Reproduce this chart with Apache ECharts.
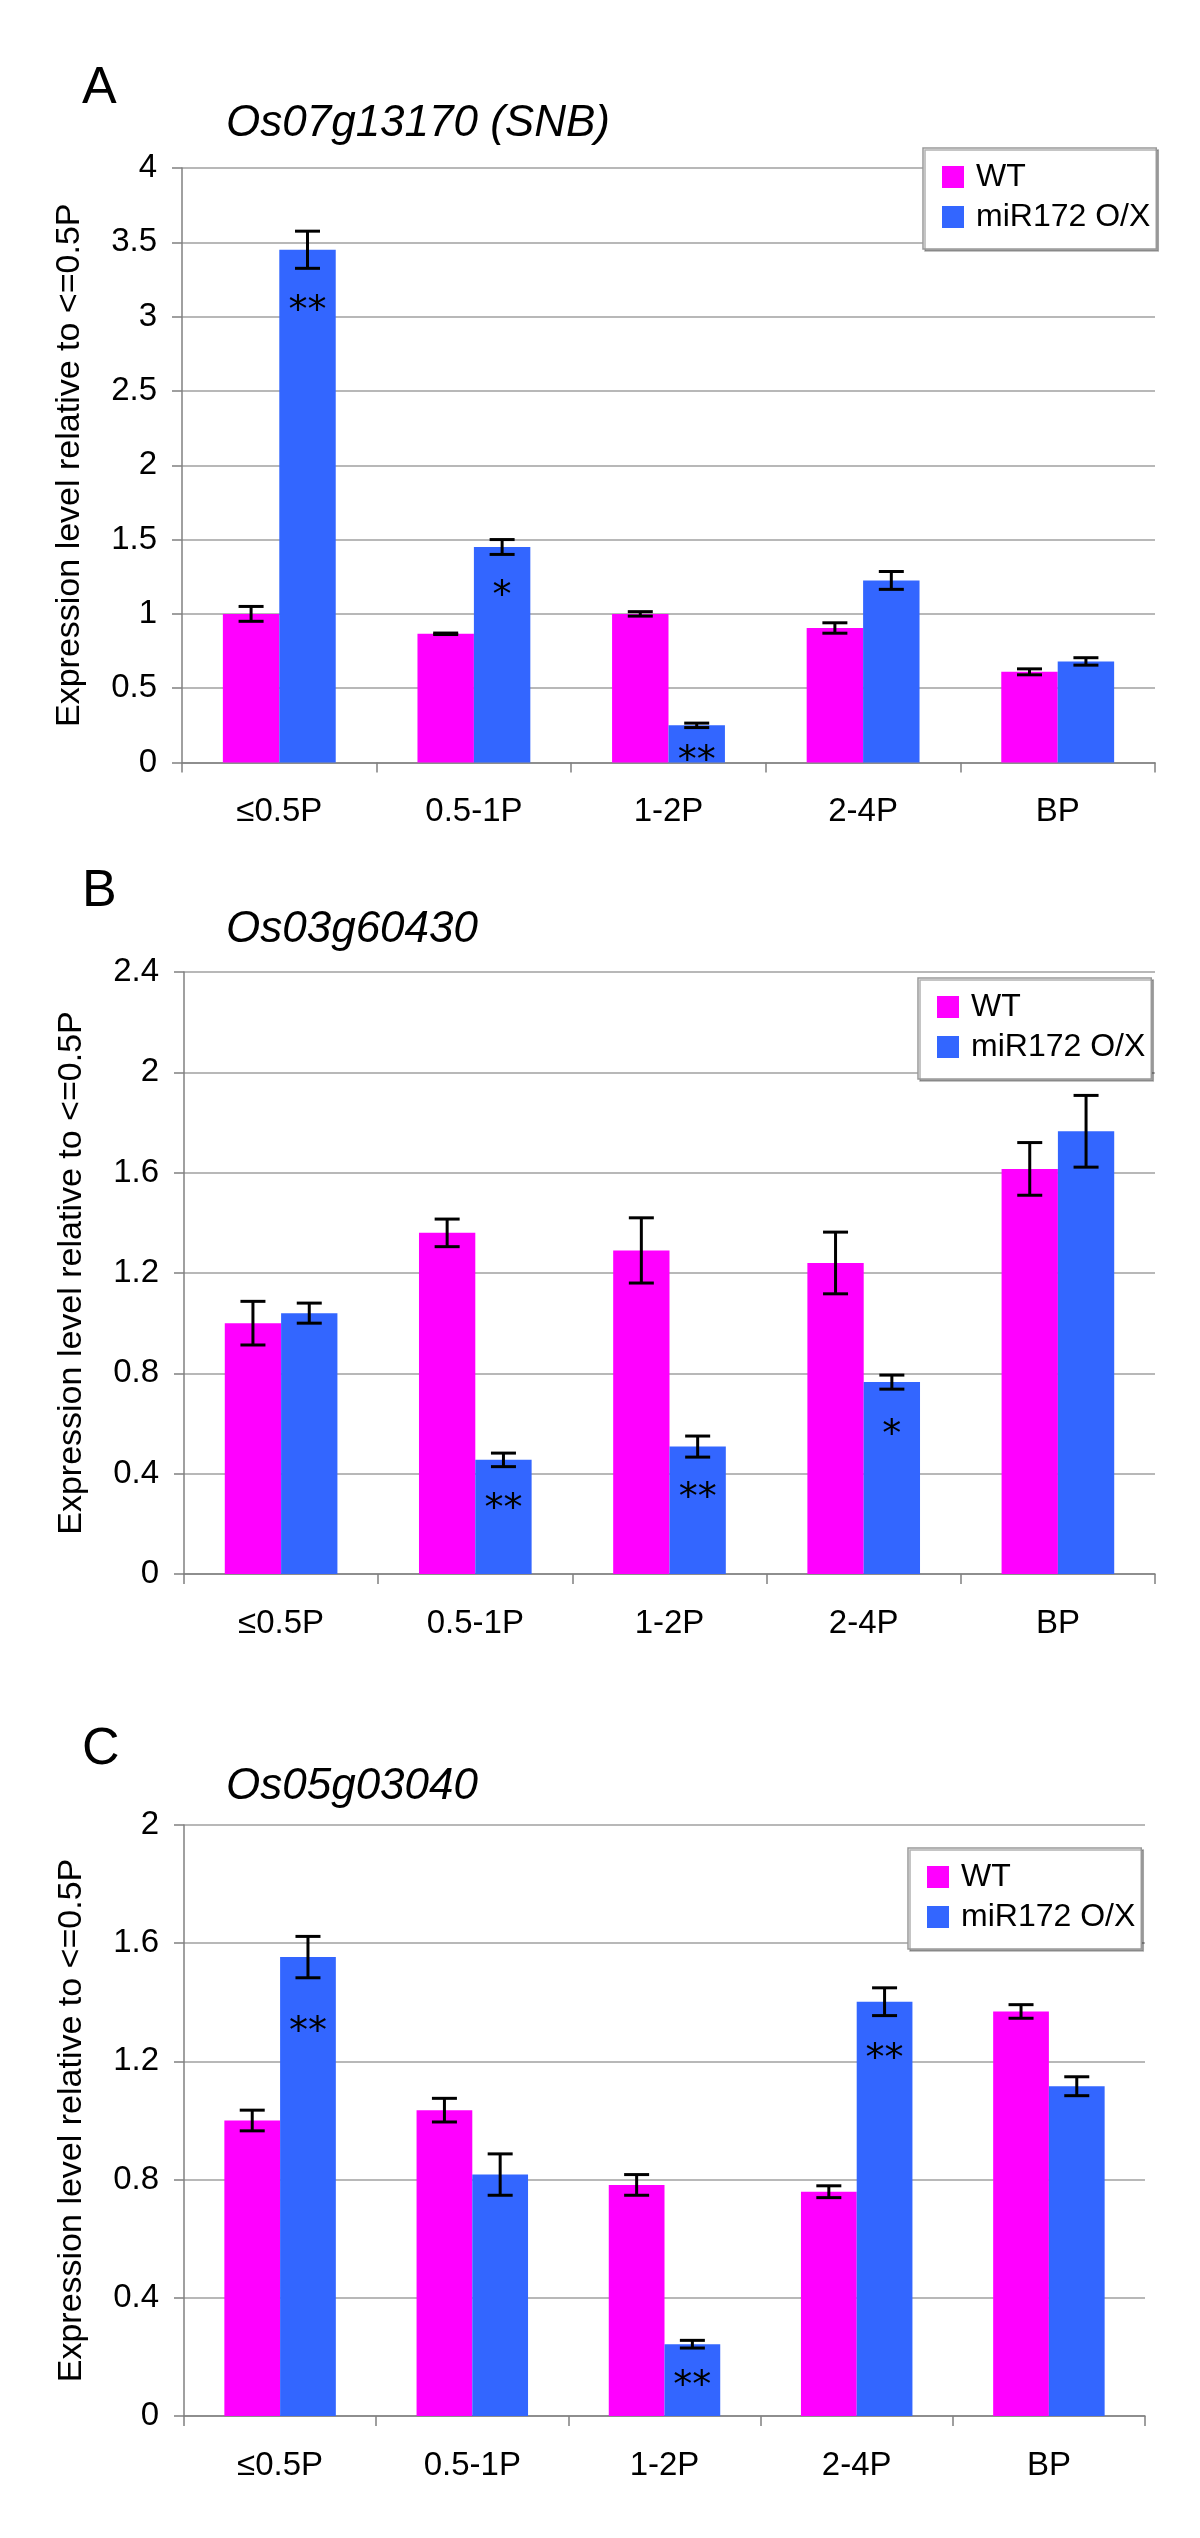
<!DOCTYPE html>
<html>
<head>
<meta charset="utf-8">
<script src="https://cdn.jsdelivr.net/npm/echarts@6/dist/echarts.min.js"></script>
<style>
html,body{margin:0;padding:0;background:#fff;}
#chart{width:1200px;height:2538px;}
</style>
</head>
<body>
<div id="chart"></div>
<script>
// ---------- data ----------
const categories = ['≤0.5P', '0.5-1P', '1-2P', '2-4P', 'BP'];
const seriesNames = ['WT', 'miR172 O/X'];

// Panel A: Os07g13170 (SNB)
const wtA     = [1.0, 0.866, 1.0, 0.905, 0.61];
const wtErrA  = [0.05, 0.005, 0.015, 0.035, 0.02];
const oxA     = [3.45, 1.45, 0.25, 1.225, 0.68];
const oxErrA  = [0.125, 0.05, 0.015, 0.06, 0.025];
const sigA    = ['**', '*', '**', '', ''];
const sigPosA = [3.09, 1.17, 0.06, null, null];

// Panel B: Os03g60430
const wtB     = [1.0, 1.36, 1.29, 1.24, 1.615];
const wtErrB  = [0.087, 0.055, 0.13, 0.123, 0.105];
const oxB     = [1.04, 0.455, 0.508, 0.765, 1.765];
const oxErrB  = [0.04, 0.027, 0.042, 0.028, 0.143];
const sigB    = ['', '**', '**', '*', ''];
const sigPosB = [null, 0.29, 0.335, 0.584, null];

// Panel C: Os05g03040
const wtC     = [1.0, 1.035, 0.782, 0.759, 1.369];
const wtErrC  = [0.035, 0.04, 0.035, 0.02, 0.023];
const oxC     = [1.553, 0.817, 0.243, 1.402, 1.116];
const oxErrC  = [0.07, 0.07, 0.013, 0.047, 0.032];
const sigC    = ['**', '', '**', '**', ''];
const sigPosC = [1.327, null, 0.128, 1.235, null];

const yRangeA = {min: 0, max: 4, interval: 0.5};
const yRangeB = {min: 0, max: 2.4, interval: 0.4};
const yRangeC = {min: 0, max: 2, interval: 0.4};

const panelLetters = ['A', 'B', 'C'];
const panelTitles = ['Os07g13170 (SNB)', 'Os03g60430', 'Os05g03040'];
const yAxisName = 'Expression level relative to <=0.5P';

// ---------- styles ----------
const FONT = '"Liberation Sans", Arial, sans-serif';
const WT_COLOR = '#FF00FF';
const OX_COLOR = '#3366FF';
const BAR_FRAC = 0.58; // 1 - barCategoryGap

const panels = [
  {wt: wtA, wtErr: wtErrA, ox: oxA, oxErr: oxErrA, sig: sigA, sigPos: sigPosA, y: yRangeA,
   grid: {left: 182, top: 168, width: 973, height: 594.5},
   legend: {left: 923, top: 148}, letterY: 88.5, titleY: 124},
  {wt: wtB, wtErr: wtErrB, ox: oxB, oxErr: oxErrB, sig: sigB, sigPos: sigPosB, y: yRangeB,
   grid: {left: 184, top: 972, width: 971, height: 602},
   legend: {left: 918, top: 978}, letterY: 891.5, titleY: 930},
  {wt: wtC, wtErr: wtErrC, ox: oxC, oxErr: oxErrC, sig: sigC, sigPos: sigPosC, y: yRangeC,
   grid: {left: 184, top: 1825, width: 961, height: 591},
   legend: {left: 908, top: 1848}, letterY: 1750, titleY: 1787}
];

function errRender(sign) {
  return function (params, api) {
    const i = api.value(0), v = api.value(1), e = api.value(2);
    const c = api.coord([i, v]);
    const band = api.size([1, 0])[0];
    const bw = band * BAR_FRAC / 2;
    const cx = c[0] + sign * bw / 2;
    const top = api.coord([i, v + e])[1];
    const bot = api.coord([i, v - e])[1];
    const hw = 12.5;
    const st = {stroke: '#000', lineWidth: 3};
    return {type: 'group', children: [
      {type: 'line', shape: {x1: cx, y1: top, x2: cx, y2: bot}, style: st},
      {type: 'line', shape: {x1: cx - hw, y1: top, x2: cx + hw, y2: top}, style: st},
      {type: 'line', shape: {x1: cx - hw, y1: bot, x2: cx + hw, y2: bot}, style: st}
    ]};
  };
}

function sigRender(labels) {
  return function (params, api) {
    const i = api.value(0), p = api.value(1);
    const c = api.coord([i, p]);
    const band = api.size([1, 0])[0];
    const bw = band * BAR_FRAC / 2;
    return {type: 'text', style: {
      text: labels[i], x: c[0] + bw / 2, y: c[1] + 9,
      align: 'center', verticalAlign: 'middle',
      font: '38px "DejaVu Sans", sans-serif', fill: '#000'
    }};
  };
}

const option = {
  animation: false,
  backgroundColor: '#fff',
  grid: [], xAxis: [], yAxis: [], series: [], legend: [], graphic: []
};

panels.forEach((p, k) => {
  option.grid.push(Object.assign({containLabel: false}, p.grid));
  option.xAxis.push({
    type: 'category', gridIndex: k, data: categories,
    axisLine: {lineStyle: {color: '#808080', width: 1.5}},
    axisTick: {show: true, length: 10, alignWithLabel: false, lineStyle: {color: '#808080', width: 1.5}},
    axisLabel: {color: '#000', fontSize: 33, fontFamily: FONT, margin: 33, interval: 0},
    splitLine: {show: false}
  });
  option.yAxis.push({
    type: 'value', gridIndex: k, min: p.y.min, max: p.y.max, interval: p.y.interval,
    name: yAxisName, nameLocation: 'middle', nameRotate: 90, nameGap: 95,
    nameTextStyle: {color: '#000', fontSize: 34, fontFamily: FONT},
    axisLine: {show: true, lineStyle: {color: '#808080', width: 1.5}},
    axisTick: {show: true, length: 10, lineStyle: {color: '#808080', width: 1.5}},
    axisLabel: {color: '#000', fontSize: 33, fontFamily: FONT, margin: 25,
      formatter: v => String(+v.toFixed(2))},
    splitLine: {show: true, lineStyle: {color: '#a0a0a0', width: 1.5}}
  });
  option.series.push({
    type: 'bar', name: seriesNames[0], xAxisIndex: k, yAxisIndex: k, data: p.wt,
    itemStyle: {color: WT_COLOR}, barGap: '0%', barCategoryGap: '42%', z: 2
  });
  option.series.push({
    type: 'bar', name: seriesNames[1], xAxisIndex: k, yAxisIndex: k, data: p.ox,
    itemStyle: {color: OX_COLOR}, barGap: '0%', barCategoryGap: '42%', z: 2
  });
  option.series.push({
    type: 'custom', xAxisIndex: k, yAxisIndex: k, z: 5,
    data: p.wt.map((v, i) => [i, v, p.wtErr[i]]), renderItem: errRender(-1)
  });
  option.series.push({
    type: 'custom', xAxisIndex: k, yAxisIndex: k, z: 5,
    data: p.ox.map((v, i) => [i, v, p.oxErr[i]]), renderItem: errRender(1)
  });
  option.series.push({
    type: 'custom', xAxisIndex: k, yAxisIndex: k, z: 6,
    data: p.sigPos.map((v, i) => [i, v]).filter(d => d[1] !== null),
    renderItem: sigRender(p.sig)
  });
  option.legend.push({
    data: seriesNames, orient: 'vertical', left: p.legend.left, top: p.legend.top,
    selectedMode: false, icon: 'rect', itemWidth: 22, itemHeight: 22, itemGap: 8,
    padding: [13, 6, 16, 19], backgroundColor: '#fff',
    borderColor: '#999', borderWidth: 1.5, borderRadius: 0,
    shadowColor: 'rgba(0,0,0,0.3)', shadowOffsetX: 2, shadowOffsetY: 2, shadowBlur: 0,
    textStyle: {color: '#000', fontSize: 32, fontFamily: FONT, padding: [0, 0, 0, 7]}
  });
  option.graphic.push({
    type: 'text', x: 82, y: p.letterY, z: 10,
    style: {text: panelLetters[k], font: '52px ' + FONT, fill: '#000', verticalAlign: 'middle', align: 'left'}
  });
  option.graphic.push({
    type: 'text', x: 226, y: p.titleY, z: 10,
    style: {text: panelTitles[k], font: 'italic 44px ' + FONT, fill: '#000', verticalAlign: 'middle', align: 'left'}
  });
});

const chart = echarts.init(document.getElementById('chart'), null, {renderer: 'canvas'});
chart.setOption(option);
</script>
</body>
</html>
